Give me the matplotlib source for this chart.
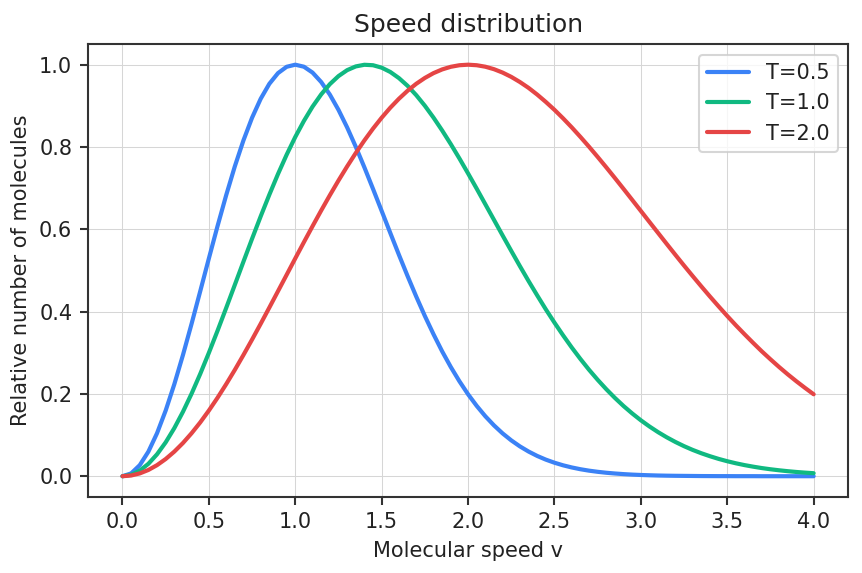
import numpy as np
import matplotlib.pyplot as plt

speed = [round(0.05 * i, 2) for i in range(81)]

t05 = [0.0, 0.0068, 0.0269, 0.0598, 0.1045, 0.1596, 0.2236, 0.2946, 0.3706, 0.4496,
       0.5293, 0.6076, 0.6827, 0.7527, 0.8160, 0.8712, 0.9173, 0.9536, 0.9795, 0.9949,
       1.0, 0.9951, 0.9808, 0.9579, 0.9274, 0.8903, 0.8477, 0.8007, 0.7505, 0.6981,
       0.6446, 0.5910, 0.5379, 0.4863, 0.4366, 0.3893, 0.3450, 0.3034, 0.2654, 0.2307,
       0.1991, 0.1709, 0.1457, 0.1235, 0.1040, 0.0871, 0.0725, 0.0600, 0.0493, 0.0403,
       0.0328, 0.0265, 0.0213, 0.0170, 0.0135, 0.0107, 0.0084, 0.0066, 0.0051, 0.0039,
       0.0030, 0.0023, 0.0017, 0.0013, 0.0010, 0.0008, 0.0006, 0.0004, 0.0003, 0.0002,
       0.0002, 0.0001, 0.0001, 0.0001, 0.0, 0.0, 0.0, 0.0, 0.0, 0.0,
       0.0]

t10 = [0.0, 0.0034, 0.0135, 0.0302, 0.0533, 0.0823, 0.1169, 0.1566, 0.2007, 0.2487,
       0.2999, 0.3534, 0.4087, 0.4649, 0.5213, 0.5771, 0.6317, 0.6842, 0.7343, 0.7812,
       0.8244, 0.8634, 0.8981, 0.9279, 0.9527, 0.9723, 0.9867, 0.9958, 0.9998, 0.9987,
       0.9928, 0.9823, 0.9674, 0.9486, 0.9260, 0.9002, 0.8714, 0.8402, 0.8070, 0.7721,
       0.7358, 0.6987, 0.6608, 0.6229, 0.5850, 0.5475, 0.5105, 0.4744, 0.4395, 0.4055,
       0.3732, 0.3423, 0.3128, 0.2850, 0.2587, 0.2343, 0.2114, 0.1902, 0.1705, 0.1525,
       0.1359, 0.1208, 0.1070, 0.0945, 0.0832, 0.0730, 0.0639, 0.0558, 0.0486, 0.0421,
       0.0364, 0.0314, 0.0270, 0.0232, 0.0198, 0.0169, 0.0144, 0.0122, 0.0103, 0.0087,
       0.0073]

t20 = [0.0, 0.0017, 0.0068, 0.0152, 0.0269, 0.0418, 0.0598, 0.0807, 0.1045, 0.1308,
       0.1596, 0.1906, 0.2236, 0.2583, 0.2946, 0.3321, 0.3706, 0.4099, 0.4496, 0.4894,
       0.5293, 0.5688, 0.6076, 0.6457, 0.6827, 0.7185, 0.7527, 0.7853, 0.8160, 0.8447,
       0.8712, 0.8955, 0.9173, 0.9367, 0.9536, 0.9678, 0.9795, 0.9885, 0.9949, 0.9987,
       1.0, 0.9987, 0.9951, 0.9891, 0.9808, 0.9704, 0.9579, 0.9437, 0.9274, 0.9095,
       0.8903, 0.8696, 0.8477, 0.8246, 0.8007, 0.7759, 0.7505, 0.7245, 0.6981, 0.6714,
       0.6446, 0.6177, 0.5910, 0.5643, 0.5379, 0.5118, 0.4863, 0.4612, 0.4366, 0.4127,
       0.3893, 0.3667, 0.3450, 0.3239, 0.3034, 0.2841, 0.2654, 0.2476, 0.2307, 0.2146,
       0.1991]

labels = ['T=0.5', 'T=1.0', 'T=2.0']
colors = ['#3b82f6', '#10b981', '#e54545']

plt.rcParams['text.color'] = '#222222'
plt.rcParams['axes.labelcolor'] = '#222222'
plt.rcParams['xtick.color'] = '#333333'
plt.rcParams['ytick.color'] = '#333333'
plt.rcParams['xtick.labelcolor'] = '#222222'
plt.rcParams['ytick.labelcolor'] = '#222222'

fig, ax = plt.subplots(figsize=(862 / 150, 573 / 150), dpi=150)

for y, lab, c in zip([t05, t10, t20], labels, colors):
    ax.plot(speed, y, color=c, lw=2, label=lab, solid_capstyle='round')

ax.set_title('Speed distribution', fontsize=12)
ax.set_xlabel('Molecular speed v', fontsize=10)
ax.set_ylabel('Relative number of molecules', fontsize=10)
ax.set_xticks(np.arange(0, 4.01, 0.5))
ax.set_ylim(-0.05, 1.05)
ax.tick_params(labelsize=10, direction='out', length=4, width=1)
ax.grid(True, color='#d6d6d6', lw=0.5)
for s in ax.spines.values():
    s.set_color('#333333')
    s.set_linewidth(1.0)
ax.legend(fontsize=10, loc='upper right')

fig.subplots_adjust(left=0.102, right=0.984, top=0.923, bottom=0.133)
plt.savefig('out.png', dpi=150)
